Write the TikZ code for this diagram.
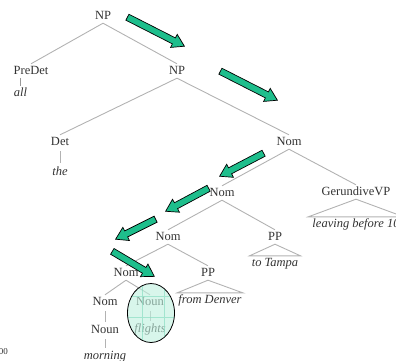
\documentclass[tikz,border=0pt]{standalone}
\usepackage{fontspec}
\setmainfont{Liberation Serif}
\usetikzlibrary{shapes.arrows,calc}
\definecolor{arrowgreen}{RGB}{30,190,140}
\definecolor{ellfill}{RGB}{190,240,222}
\definecolor{ellgrid}{RGB}{140,222,196}
\definecolor{txtgray}{RGB}{50,50,50}
\definecolor{linegray}{RGB}{178,178,178}
\tikzset{
 tn/.style={font=\fontsize{12.5}{15}\selectfont, text=txtgray, inner xsep=1pt, inner ysep=1.5pt, text height=8.5pt, text depth=2.5pt},
 lf/.style={tn, font=\fontsize{12.5}{15}\selectfont\itshape},
 br/.style={draw=linegray, line width=0.9pt},
 garrow/.style={single arrow, draw=black, line width=0.7pt, fill=arrowgreen, inner sep=3pt, minimum width=0pt, single arrow head extend=4pt, single arrow tip angle=64},
}
\newcommand{\greenarrow}[2]{\path let \p1=($(#2)-(#1)$), \n1={atan2(\y1,\x1)}, \n2={veclen(\x1,\y1)} in node[garrow, minimum height=\n2, rotate=\n1] at ($(#1)!0.5!(#2)$) {};}
\begin{document}
\begin{tikzpicture}[x=1pt,y=-1pt]
\useasboundingbox (0,0) rectangle (396,360);
% tree nodes
\node[tn] (np1) at (103,16) {NP};
\node[tn] (predet) at (31,71) {PreDet};
\node[lf] (wall) at (20.5,93) {all};
\node[tn] (np2) at (177,71) {NP};
\node[tn] (det) at (60,142) {Det};
\node[lf] (wthe) at (60,172) {the};
\node[tn] (nom1) at (289,142) {Nom};
\node[tn] (nom2) at (222,193) {Nom};
\node[tn] (gvp) at (356,192) {GerundiveVP};
\node[lf] (leaving) at (356,224) {leaving before 10};
\node[tn] (nom3) at (168,237) {Nom};
\node[tn] (ppa) at (275,237) {PP};
\node[lf] (tampa) at (275,263) {to Tampa};
\node[tn] (nom4) at (126,273) {Nom};
\node[tn] (ppb) at (208,273) {PP};
\node[lf] (denver) at (210,300) {from Denver};
\node[tn] (nom5) at (105,302) {Nom};
\node[tn] (noun1) at (150,302) {Noun};
\node[tn] (noun2) at (105,330) {Noun};
\node[lf] (morning) at (105,356) {morning};
\node[lf] (flights) at (150,329) {flights};
\node[font=\fontsize{9}{10}\selectfont, text=txtgray, anchor=east, inner sep=0pt] (pgnum) at (8,352) {100};
% branches
\draw[br] (np1.south) -- (predet.north);
\draw[br] (np1.south) -- (np2.north);
\coordinate (predetfoot) at (predet.south -| wall.north);
\draw[br, line width=1pt, draw=black!40] (predetfoot) -- (wall.north);
\draw[br] (np2.south) -- (det.north);
\draw[br] (np2.south) -- (nom1.north);
\draw[br, shorten <=2pt, shorten >=2pt] (det.south) -- (wthe.north);
\draw[br] (nom1.south) -- (nom2.north);
\draw[br] (nom1.south) -- (gvp.north);
\draw[br] (nom2.south) -- (nom3.north);
\draw[br] (nom2.south) -- (ppa.north);
\draw[br] (nom3.south) -- (nom4.north);
\draw[br] (nom3.south) -- (ppb.north);
\draw[br] (nom4.south) -- (nom5.north);
\draw[br] (nom4.south) -- (noun1.north);
\draw[br, shorten <=2pt, shorten >=1pt] (nom5.south) -- (noun2.north);
\draw[br, shorten <=2pt, shorten >=1pt] (noun2.south) -- (morning.north);
\draw[br, shorten <=2pt, shorten >=1pt] (noun1.south) -- (flights.north);
% triangles
\draw[br] ($(leaving.north west)+(-3,0)$) -- (gvp.south) -- ($(leaving.north east)+(3,0)$) -- cycle;
\draw[br] ($(tampa.north west)+(-1,0)$) -- (ppa.south) -- ($(tampa.north east)+(1,0)$) -- cycle;
\draw[br] (denver.north west) -- (ppb.south) -- (denver.north east) -- cycle;
% highlight ellipse
\coordinate (hl) at (151,313);
\begin{scope}
\clip (hl) ellipse [x radius=23.5pt, y radius=29.5pt];
\fill[ellfill, fill opacity=0.6] (120,280) rectangle (180,350);
\draw[ellgrid, line width=0.3pt, opacity=0.7] (142,280) -- (142,350) (164,280) -- (164,350) (120,296) -- (180,296) (120,317) -- (180,317);
\end{scope}
\draw[black, line width=0.8pt] (hl) ellipse [x radius=23.5pt, y radius=29.5pt];
% arrows
\coordinate (a1s) at (125,16); \coordinate (a1e) at (182,45);
\coordinate (a2s) at (218,70); \coordinate (a2e) at (275,99);
\coordinate (a3s) at (266,152); \coordinate (a3e) at (222,175);
\coordinate (a4s) at (211,187); \coordinate (a4e) at (168,210);
\coordinate (a5s) at (158,218); \coordinate (a5e) at (118,238);
\coordinate (a6s) at (110,250); \coordinate (a6e) at (152,275);
\greenarrow{a1s}{a1e}
\greenarrow{a2s}{a2e}
\greenarrow{a3s}{a3e}
\greenarrow{a4s}{a4e}
\greenarrow{a5s}{a5e}
\greenarrow{a6s}{a6e}
\end{tikzpicture}
\end{document}
